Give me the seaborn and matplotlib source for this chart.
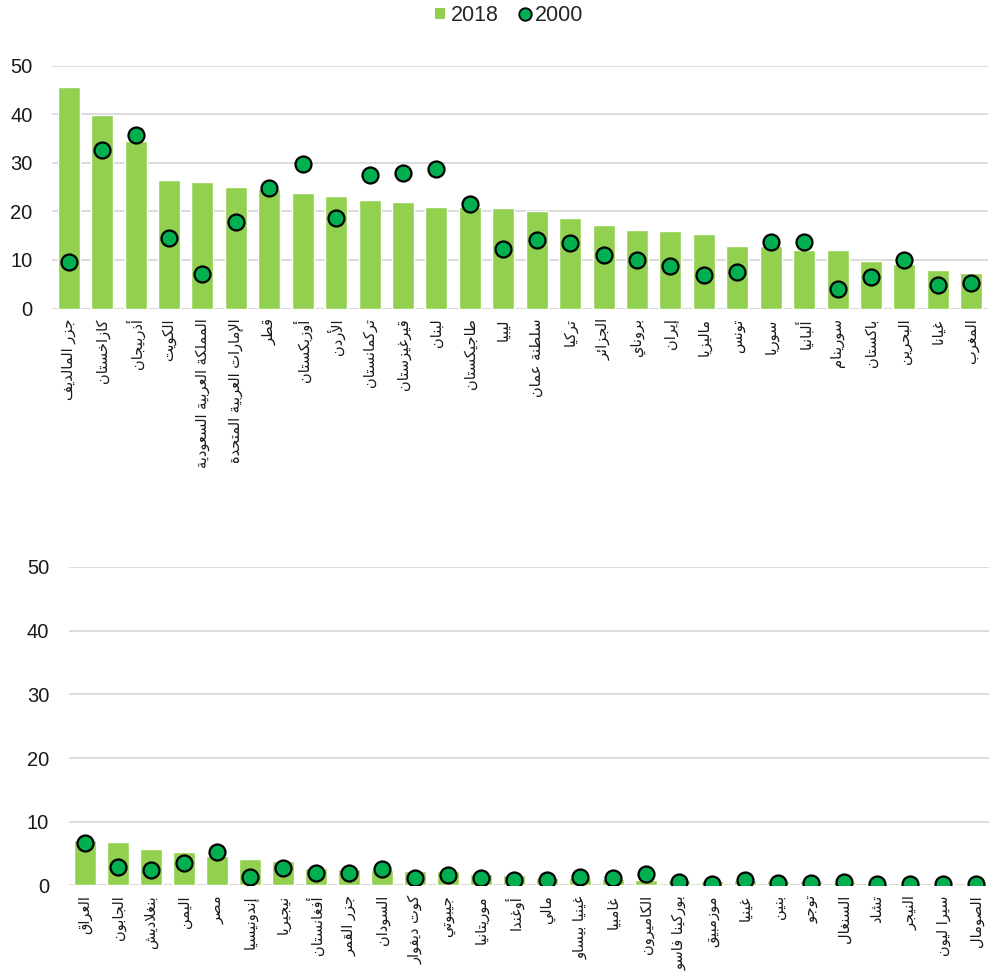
import matplotlib
matplotlib.use("Agg")
import matplotlib.pyplot as plt
from matplotlib.patches import Patch
from matplotlib.lines import Line2D
import seaborn as sns
import pandas as pd

# ---- data -------------------------------------------------------------
countries_top = [
    "جزر المالديف", "كازاخستان", "أذربيجان", "الكويت",
    "المملكة العربية السعودية", "الإمارات العربية المتحدة", "قطر",
    "أوزبكستان", "الأردن", "تركمانستان", "قيرغيزستان", "لبنان",
    "طاجيكستان", "ليبيا", "سلطنة عمان", "تركيا", "الجزائر", "بروناي",
    "إيران", "ماليزيا", "تونس", "سوريا", "ألبانيا", "سورينام",
    "باكستان", "البحرين", "غيانا", "المغرب",
]
v2018_top = [45.6, 39.8, 34.4, 26.4, 26.0, 25.1, 24.7, 23.7, 23.1, 22.3,
             22.0, 21.0, 21.0, 20.8, 20.0, 18.6, 17.1, 16.1, 15.9, 15.3,
             12.9, 12.8, 12.1, 12.0, 9.7, 9.2, 7.9, 7.3]
v2000_top = [9.6, 32.7, 35.8, 14.5, 7.2, 17.9, 24.9, 29.7, 18.6, 27.5,
             27.9, 28.8, 21.6, 12.3, 14.2, 13.4, 11.0, 10.0, 8.8, 6.9,
             7.6, 13.6, 13.8, 4.0, 6.4, 10.1, 4.8, 5.2]

countries_bottom = [
    "العراق", "الجابون", "بنغلاديش", "اليمن", "مصر", "إندونيسيا",
    "نيجيريا", "أفغانستان", "جزر القمر", "السودان", "كوت ديفوار",
    "جيبوتي", "موريتانيا", "أوغندا", "مالي", "غينيا بيساو", "غامبيا",
    "الكاميرون", "بوركينا فاسو", "موزمبيق", "غينيا", "بنين", "توجو",
    "السنغال", "تشاد", "النيجر", "سيرا ليون", "الصومال",
]
v2018_bottom = [7.1, 6.8, 5.8, 5.2, 4.6, 4.2, 3.8, 2.8, 2.6, 2.5, 2.3,
                2.2, 1.8, 1.6, 1.2, 1.2, 1.0, 0.85, 0.85, 0.75, 0.8, 0.7,
                0.7, 0.6, 0.4, 0.4, 0.3, 0.3]
v2000_bottom = [6.7, 2.9, 2.5, 3.5, 5.3, 1.4, 2.7, 1.9, 1.9, 2.6, 1.2,
                1.6, 1.1, 0.85, 0.85, 1.4, 1.1, 1.85, 0.6, 0.2, 0.9, 0.4,
                0.4, 0.6, 0.2, 0.2, 0.2, 0.2]

y_ticks = [0, 10, 20, 30, 40, 50]
series_labels = ["2018", "2000"]

BAR_COLOR = "#92D050"
DOT_COLOR = "#00B050"
GRID_COLOR = "#D9D9D9"

# ---- Arabic contextual shaping (presentation forms, visual order) -----
_JOIN = [("ء", 0xFE80, 1), ("آ", 0xFE81, 2), ("أ", 0xFE83, 2), ("ؤ", 0xFE85, 2),
         ("إ", 0xFE87, 2), ("ئ", 0xFE89, 4), ("ا", 0xFE8D, 2), ("ب", 0xFE8F, 4),
         ("ة", 0xFE93, 2), ("ت", 0xFE95, 4), ("ث", 0xFE99, 4), ("ج", 0xFE9D, 4),
         ("ح", 0xFEA1, 4), ("خ", 0xFEA5, 4), ("د", 0xFEA9, 2), ("ذ", 0xFEAB, 2),
         ("ر", 0xFEAD, 2), ("ز", 0xFEAF, 2), ("س", 0xFEB1, 4), ("ش", 0xFEB5, 4),
         ("ص", 0xFEB9, 4), ("ض", 0xFEBD, 4), ("ط", 0xFEC1, 4), ("ظ", 0xFEC5, 4),
         ("ع", 0xFEC9, 4), ("غ", 0xFECD, 4), ("ف", 0xFED1, 4), ("ق", 0xFED5, 4),
         ("ك", 0xFED9, 4), ("ل", 0xFEDD, 4), ("م", 0xFEE1, 4), ("ن", 0xFEE5, 4),
         ("ه", 0xFEE9, 4), ("و", 0xFEED, 2), ("ى", 0xFEEF, 2), ("ي", 0xFEF1, 4)]
_FORMS = {c: (s, n) for c, s, n in _JOIN}
_LAM_ALEF = {"آ": 0xFEF5, "أ": 0xFEF7, "إ": 0xFEF9, "ا": 0xFEFB}


def shape_ar(text):
    units = []
    i = 0
    while i < len(text):
        c = text[i]
        if c == "ل" and i + 1 < len(text) and text[i + 1] in _LAM_ALEF:
            units.append(("LA", _LAM_ALEF[text[i + 1]]))
            i += 2
        else:
            units.append(c)
            i += 1

    def links_forward(u):
        return (not isinstance(u, tuple)) and u in _FORMS and _FORMS[u][1] == 4

    def links_back(u):
        return isinstance(u, tuple) or (u in _FORMS and _FORMS[u][1] > 1)

    out = []
    for k, u in enumerate(units):
        prev = units[k - 1] if k > 0 else None
        nxt = units[k + 1] if k + 1 < len(units) else None
        p = prev is not None and links_forward(prev) and links_back(u)
        if isinstance(u, tuple):
            out.append(chr(u[1] + (1 if p else 0)))
            continue
        if u not in _FORMS:
            out.append(u)
            continue
        s, n = _FORMS[u]
        nx = n == 4 and nxt is not None and links_back(nxt)
        if n == 1:
            idx = 0
        elif n == 2:
            idx = 1 if p else 0
        else:
            idx = 3 if (p and nx) else 1 if p else 2 if nx else 0
        out.append(chr(s + idx))
    return "".join(reversed(out))


# ---- figure -----------------------------------------------------------
sns.set_theme(style="white")
plt.rcParams["font.family"] = ["Liberation Sans", "DejaVu Sans"]

fig = plt.figure(figsize=(9.89, 9.75), dpi=100)
ax_top = fig.add_axes([0.0526, 0.6835, 0.9464, 0.2492])
ax_bot = fig.add_axes([0.0693, 0.0918, 0.9343, 0.3267])


def draw_panel(ax, names, v18, v00):
    shaped = [shape_ar(n) for n in names]
    df = pd.DataFrame({"country": shaped, "y2018": v18, "y2000": v00})
    sns.barplot(data=df, x="country", y="y2018", color=BAR_COLOR,
                saturation=1, width=0.66, ax=ax, zorder=2)
    sns.stripplot(data=df, x="country", y="y2000", jitter=False,
                  color=DOT_COLOR, edgecolor="black", linewidth=1.6,
                  size=11.5, ax=ax, zorder=3)
    ax.set_ylim(0, 50)
    ax.set_yticks(y_ticks)
    ax.set_xlim(-0.5, len(names) - 0.5)
    ax.yaxis.grid(True, color=GRID_COLOR, linewidth=1.3, zorder=0)
    ax.set_axisbelow(True)
    ax.axhline(0, color=GRID_COLOR, linewidth=1.8, zorder=1)
    for s in ax.spines.values():
        s.set_visible(False)
    ax.set_xlabel("")
    ax.set_ylabel("")
    ax.tick_params(axis="y", length=0, pad=14, labelsize=14.5, labelcolor="#1a1a1a")
    ax.tick_params(axis="x", length=0, pad=7)
    ax.set_xticks(range(len(names)))
    ax.set_xticklabels(shaped, rotation=90, fontsize=10.5,
                       fontfamily="DejaVu Sans", color="#1a1a1a")


draw_panel(ax_top, countries_top, v2018_top, v2000_top)
draw_panel(ax_bot, countries_bottom, v2018_bottom, v2000_bottom)

handles = [
    Patch(facecolor=BAR_COLOR, edgecolor="none", label=series_labels[0]),
    Line2D([], [], linestyle="none", marker="o", markersize=9,
           markerfacecolor=DOT_COLOR, markeredgecolor="black",
           markeredgewidth=1.3, label=series_labels[1]),
]
fig.legend(handles=handles, loc="center", bbox_to_anchor=(0.515, 0.984),
           ncol=2, frameon=False, fontsize=15.5, handlelength=0.45,
           handleheight=0.45, handletextpad=0.25, columnspacing=1.0)

fig.savefig("out.png", dpi=100)
